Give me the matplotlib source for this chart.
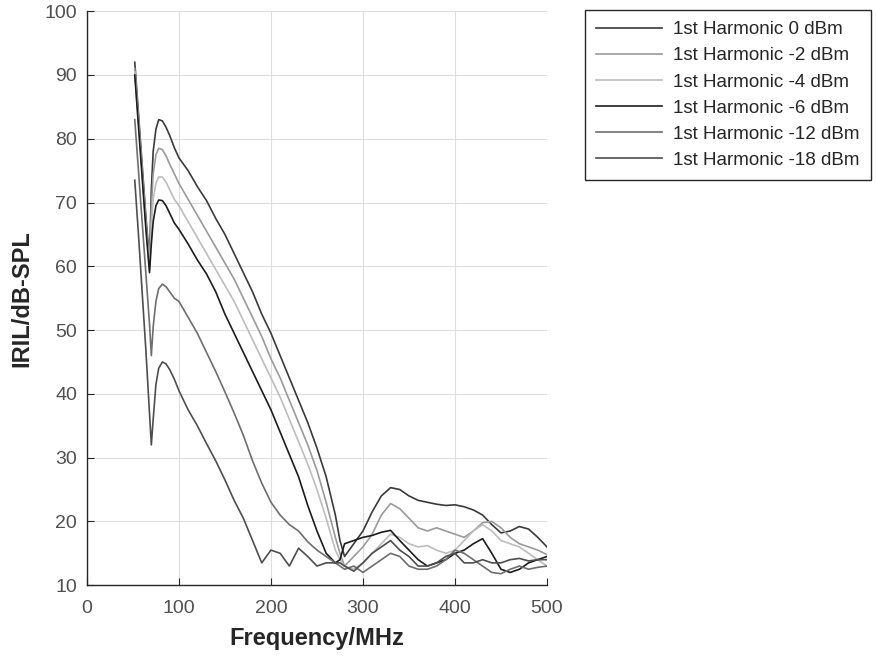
import numpy as np
import matplotlib
matplotlib.use("Agg")
import matplotlib.pyplot as plt

plt.rcParams["font.family"] = ["Liberation Sans", "DejaVu Sans"]

freq = [52, 56, 60, 64, 68, 70, 72, 75, 78, 82, 86, 90, 95,
        100, 110, 120, 130, 140, 150, 160, 170, 180, 190, 200, 210, 220, 230,
        240, 250, 260, 270, 275, 280, 290, 300, 310, 320, 330, 340, 350, 360,
        370, 380, 390, 400, 410, 420, 430, 440, 450, 460, 470, 480, 490, 500]

h_0dbm = [92, 84, 76, 68, 61, 72, 78, 81.5, 83, 82.8, 81.8, 80.5, 78.6,
          77, 75, 72.5, 70.3, 67.5, 65, 62, 59, 56, 52.5, 49.5, 46, 42.5, 39,
          35.5, 31.5, 27, 21, 17, 14.5, 16.5, 18.5, 21.5, 24, 25.3, 25, 24, 23.3,
          23, 22.7, 22.5, 22.6, 22.3, 21.8, 21, 19.5, 18.2, 18.5, 19.2, 18.8, 17.5, 16]

h_m2dbm = [91, 83, 75, 67, 60, 69, 74.5, 77.5, 78.5, 78.3, 77.3, 76, 74.5,
           73, 70.5, 68, 65.5, 63, 60.5, 58, 55, 52, 49, 45.5, 42.5, 39, 35.5,
           32, 28, 23, 17.5, 15, 13, 14.5, 16, 18, 21, 22.8, 22, 20.5, 19,
           18.5, 19, 18.5, 18, 17.5, 18.5, 19.8, 20, 19, 17.5, 16.5, 16, 15.5, 14.8]

h_m4dbm = [90.5, 82.5, 74.5, 66.5, 59.5, 66, 70.5, 73, 74, 74, 73.2, 72, 70.5,
           69.5, 67, 64.5, 62, 59.5, 57, 54.5, 51.5, 48.5, 45.5, 42.5, 39.5, 36, 32.5,
           29, 25, 20.5, 15.5, 14, 13, 12.5, 13.5, 15, 16.5, 18, 17.5, 16.5, 16,
           16.2, 15.5, 15, 15.5, 17, 18.5, 19.5, 18.5, 17, 16.5, 16, 15, 14, 13]

h_m6dbm = [90, 82, 74, 66, 59, 63.5, 67, 69.5, 70.4, 70.3, 69.5, 68.3, 66.8,
           65.8, 63.5, 61, 58.8, 56, 52.5, 49.5, 46.5, 43.5, 40.5, 37.5, 34, 30.5, 27,
           22.5, 18.5, 15, 13.5, 14, 16.5, 17, 17.5, 17.8, 18.3, 18.6, 17, 15.5, 14,
           13, 13.5, 14, 15, 15.5, 16.5, 17.3, 15, 12.5, 12, 12.5, 13.5, 14, 14.5]

h_m12dbm = [83, 75, 67, 59, 51, 46, 50.5, 54.5, 56.5, 57.2, 56.8, 56, 55,
            54.5, 52, 49.5, 46.5, 43.5, 40.3, 37, 33.5, 29.5, 26, 23, 21, 19.5, 18.5,
            16.8, 15.5, 14.5, 13.5, 13, 12.5, 13, 12, 13, 14, 15, 14.5, 13, 12.5,
            12.5, 13, 14, 15.5, 15, 14, 13, 12, 11.8, 12.5, 13, 12.5, 12.8, 13]

h_m18dbm = [73.5, 65, 56, 47, 37, 32, 36, 41.5, 44, 45, 44.7, 43.8, 42.3,
            40.5, 37.5, 35, 32.2, 29.5, 26.5, 23.3, 20.5, 17, 13.5, 15.5, 15, 13, 15.8,
            14.5, 13, 13.5, 13.5, 13.5, 13, 12.2, 13.5, 15, 16, 17, 15.5, 14.5, 13,
            13, 13.5, 14.5, 15, 13.5, 13.5, 14, 13.5, 13.5, 14, 14.2, 13.8, 14, 14]

labels = ["1st Harmonic 0 dBm", "1st Harmonic -2 dBm", "1st Harmonic -4 dBm",
          "1st Harmonic -6 dBm", "1st Harmonic -12 dBm", "1st Harmonic -18 dBm"]
series = [h_0dbm, h_m2dbm, h_m4dbm, h_m6dbm, h_m12dbm, h_m18dbm]
colors = ["#3a3a3a", "#9a9a9a", "#bdbdbd", "#1c1c1c", "#6e6e6e", "#4e4e4e"]


def main():
    fig = plt.figure(figsize=(8.78, 6.59), dpi=100)
    ax = fig.add_axes([0.099, 0.112, 0.524, 0.871])

    for y, lab, c in zip(series, labels, colors):
        ax.plot(freq, y, color=c, linewidth=1.2, label=lab)

    ax.set_xlim(0, 500)
    ax.set_ylim(10, 100)
    ax.set_xticks(np.arange(0, 501, 100))
    ax.set_yticks(np.arange(10, 101, 10))
    ax.grid(True, color="#dedede", linewidth=0.8)
    ax.set_axisbelow(True)
    for s in ["top", "right"]:
        ax.spines[s].set_visible(False)
    for s in ["left", "bottom"]:
        ax.spines[s].set_color("#262626")
        ax.spines[s].set_linewidth(1.0)
    ax.tick_params(direction="in", length=5, labelsize=14, colors="#262626",
                   labelcolor="#505050")
    ax.tick_params(axis="x", pad=11)
    ax.tick_params(axis="y", pad=7)

    ax.set_xlabel("Frequency/MHz", fontsize=17, fontweight="bold",
                  color="#262626", labelpad=7)
    ax.set_ylabel("IRIL/dB-SPL", fontsize=17, fontweight="bold",
                  color="#262626", labelpad=8)

    leg = fig.legend(loc="upper left", bbox_to_anchor=(0.666, 0.985),
                     bbox_transform=fig.transFigure, borderaxespad=0,
                     fontsize=13.5, handlelength=3.5, handletextpad=0.6,
                     labelspacing=0.48, borderpad=0.6, fancybox=False,
                     framealpha=1)
    leg.get_frame().set_edgecolor("#262626")
    leg.get_frame().set_linewidth(1.0)
    for t in leg.get_texts():
        t.set_color("#262626")

    fig.savefig("out.png", dpi=100)


if __name__ == "__main__":
    main()
